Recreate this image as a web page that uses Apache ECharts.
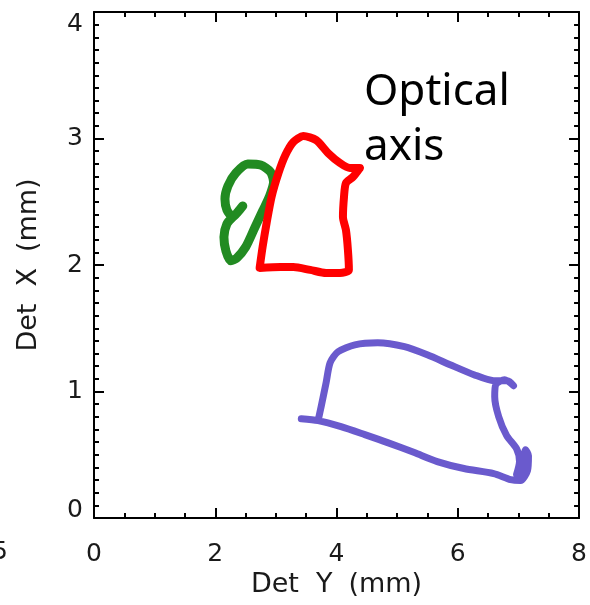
<!DOCTYPE html>
<html>
<head>
<meta charset="utf-8">
<script src="https://cdn.jsdelivr.net/npm/echarts@6/dist/echarts.min.js"></script>
<style>
    html, body {margin: 0; padding: 0; background: #fff;}
    #chart {width: 590px; height: 605px;}
</style>
</head>
<body>
<div id="chart"></div>
<script>
// outlines, in mm (Det Y, Det X)
var redPath = [
    [4.384, 2.766], [4.221, 2.766], [4.057, 2.806], [3.861, 2.885], [3.665, 2.987],
    [3.452, 3.019], [3.288, 2.972], [3.157, 2.869], [3.043, 2.727], [2.928, 2.537],
    [2.847, 2.332], [2.781, 2.143], [2.732, 1.977], [3.076, 1.984], [3.288, 1.984],
    [3.566, 1.961], [3.828, 1.937], [4.057, 1.937], [4.204, 1.961], [4.188, 2.119],
    [4.155, 2.277], [4.106, 2.380], [4.123, 2.537], [4.155, 2.648], [4.270, 2.695],
    [4.384, 2.766]
];
var greenPath = [
    [2.454, 2.467], [2.372, 2.419], [2.290, 2.379], [2.192, 2.435], [2.160, 2.522],
    [2.209, 2.625], [2.339, 2.727], [2.536, 2.798], [2.748, 2.790], [2.912, 2.735],
    [2.961, 2.656], [2.896, 2.545], [2.781, 2.427], [2.650, 2.293], [2.503, 2.143],
    [2.356, 2.056], [2.258, 2.033], [2.176, 2.111], [2.143, 2.222], [2.192, 2.325],
    [2.290, 2.379]
];
var purplePath = [
    [3.419, 0.785], [3.697, 0.770], [4.074, 0.722], [4.466, 0.659], [4.843, 0.596],
    [5.284, 0.517], [5.661, 0.446], [6.102, 0.391], [6.593, 0.351], [6.871, 0.303],
    [7.035, 0.296], [7.149, 0.374], [7.166, 0.493], [7.117, 0.540], [7.084, 0.461],
    [7.067, 0.374], [6.969, 0.343], [7.018, 0.446], [6.969, 0.548], [6.806, 0.651],
    [6.675, 0.801], [6.609, 0.959], [6.626, 1.054], [6.773, 1.093], [6.920, 1.046],
    [6.822, 1.085], [6.593, 1.085], [6.266, 1.133], [5.873, 1.212], [5.497, 1.290],
    [5.121, 1.354], [4.679, 1.385], [4.303, 1.369], [4.025, 1.314], [3.894, 1.227],
    [3.828, 1.069], [3.746, 0.880], [3.697, 0.770]
];
var xRange = [0, 8];
var yRange = [0, 4];
var xNameWords = ['Det', 'Y', '(mm)'];
var yNameWords = ['Det', 'X', '(mm)'];
var noteText = 'Optical\naxis';

var myChart = echarts.init(document.getElementById('chart'));

var font = 'DejaVu Sans';
var lineCol = '#000';
var textCol = '#1a1a1a';

function frameAxis(extra) {
    var base = {
        axisLine: {show: true, onZero: false, lineStyle: {color: lineCol, width: 2}},
        axisTick: {show: true, inside: true, length: 10, lineStyle: {color: lineCol, width: 2}},
        minorTick: {show: true, length: 5, lineStyle: {color: lineCol, width: 2}},
        splitLine: {show: false},
        axisLabel: {show: false}
    };
    return echarts.util.merge(base, extra, true);
}

// wide word gaps like the original lettering
function spacedName(words) {
    return '{w|' + words[0] + '}{g| }{w|' + words[1] + '}{h| }{w|' + words[2] + '}';
}
var nameRich = {
    w: {fontFamily: font, fontSize: 27, color: textCol},
    g: {fontFamily: font, fontSize: 27, width: 17},
    h: {fontFamily: font, fontSize: 27, width: 16}
};

function line(data, color, width) {
    return {
        type: 'line',
        data: data,
        showSymbol: false,
        smooth: 0.25,
        lineStyle: {color: color, width: width, cap: 'round', join: 'round'},
        silent: true
    };
}

var option = {
    animation: false,
    backgroundColor: '#fff',
    grid: {left: 94, right: 7, top: 12, bottom: 87},
    xAxis: [
        frameAxis({
            type: 'value', position: 'bottom', min: xRange[0], max: xRange[1], interval: 2,
            minorTick: {splitNumber: 4},
            name: spacedName(xNameWords), nameLocation: 'middle', nameGap: 50,
            nameTextStyle: {fontFamily: font, fontSize: 27, color: textCol, rich: nameRich},
            axisLabel: {show: true, margin: 24, fontFamily: font, fontSize: 25, color: textCol}
        }),
        frameAxis({
            type: 'value', position: 'top', min: xRange[0], max: xRange[1], interval: 2,
            minorTick: {splitNumber: 4}
        })
    ],
    yAxis: [
        frameAxis({
            type: 'value', position: 'left', min: yRange[0], max: yRange[1], interval: 1,
            minorTick: {splitNumber: 10},
            name: spacedName(yNameWords), nameLocation: 'middle', nameGap: 52, nameRotate: 90,
            nameTextStyle: {fontFamily: font, fontSize: 27, color: textCol, rich: nameRich},
            axisLabel: {
                show: true, margin: 11, fontFamily: font, fontSize: 25, color: textCol,
                formatter: function (v) {
                    if (v === yRange[1]) return '{hi|' + v + '}';
                    if (v === yRange[0]) return '{lo|' + v + '}';
                    return '' + v;
                },
                rich: {
                    hi: {fontFamily: font, fontSize: 25, color: textCol, padding: [24, 0, 0, 0]},
                    lo: {fontFamily: font, fontSize: 25, color: textCol, padding: [0, 0, 16, 0]}
                }
            }
        }),
        frameAxis({
            type: 'value', position: 'right', min: yRange[0], max: yRange[1], interval: 1,
            minorTick: {splitNumber: 10}
        })
    ],
    graphic: [
        {
            type: 'text', left: 364, top: 65,
            style: {text: noteText, fontFamily: 'Noto Sans', fontSize: 44, lineHeight: 55, fill: '#000'}
        },
        {
            type: 'text', left: -8, top: 540,
            style: {text: '5', fontFamily: font, fontSize: 25, fill: textCol}
        }
    ],
    series: [
        line(greenPath, '#228b22', 9),
        line(redPath, '#ff0000', 8),
        line(purplePath, '#6a5acd', 7)
    ]
};

myChart.setOption(option);
</script>
</body>
</html>
